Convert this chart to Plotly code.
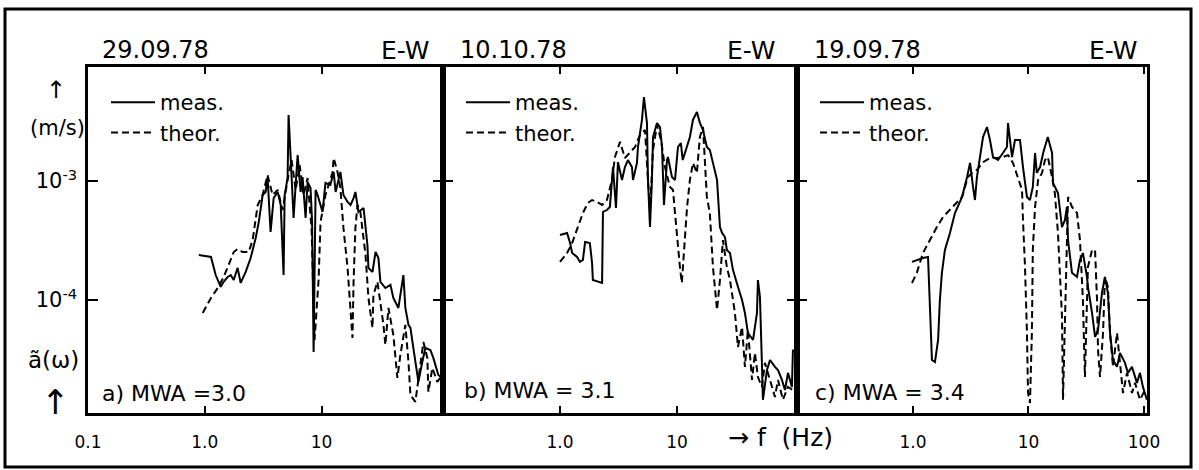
import plotly.graph_objects as go

# ---------------- data ----------------
# Panel a) 29.09.78  E-W, MWA = 3.0
fa_meas = [0.89, 1.13, 1.24, 1.37, 1.45, 1.57, 1.67, 1.77, 1.91, 2.03, 2.24, 2.47, 2.73, 2.90, 3.13, 3.32,
           3.45, 3.66, 3.89, 4.21, 4.47, 4.73, 4.83, 5.12, 5.22, 5.43, 5.65, 5.76, 6.00, 6.24, 6.62, 6.88,
           7.30, 7.59, 8.05, 8.30, 8.55, 8.89, 9.25, 10.2, 10.8, 11.9, 12.7, 13.2, 14.5, 15.4, 16.7, 17.7,
           18.8, 19.5, 20.7, 22.9, 24.7, 25.2, 27.3, 29.0, 30.7, 31.9, 35.2, 38.9, 41.2, 45.5, 50.2, 52.2,
           55.5, 57.7, 61.1, 64.9, 67.5, 72.9, 77.4, 85.5, 90.6, 100, 108]
aa_meas = [2.39e-4, 2.30e-4, 1.62e-4, 1.29e-4, 1.42e-4, 1.56e-4, 1.62e-4, 1.47e-4, 1.86e-4, 1.39e-4,
           1.72e-4, 2.25e-4, 3.32e-4, 4.52e-4, 7.62e-4, 8.09e-4, 1.08e-3, 3.73e-4, 7.19e-4, 8.09e-4,
           6.29e-4, 1.62e-4, 7.62e-4, 1.06e-3, 3.59e-3, 1.44e-3, 5.93e-4, 4.89e-4, 9.25e-4, 1.65e-3,
           8.09e-4, 1.08e-3, 4.89e-4, 9.80e-4, 8.73e-4, 4.52e-4, 3.66e-5, 8.41e-4, 7.62e-4, 5.49e-4,
           9.62e-4, 9.25e-4, 1.19e-3, 8.09e-4, 1.19e-3, 7.62e-4, 6.67e-4, 6.29e-4, 7.19e-4, 8.09e-4,
           5.49e-4, 5.93e-4, 2.90e-4, 1.86e-4, 1.72e-4, 2.53e-4, 2.25e-4, 1.42e-4, 1.26e-4, 1.34e-4,
           1.04e-4, 8.57e-5, 1.62e-4, 8.57e-5, 6.17e-5, 5.82e-5, 3.95e-5, 2.68e-5, 2.05e-5, 3.01e-5,
           3.95e-5, 3.80e-5, 3.26e-5, 2.34e-5, 2.21e-5]
fa_theo = [0.96, 1.13, 1.29, 1.45, 1.60, 1.77, 1.91, 2.11, 2.38, 2.57, 2.84, 3.13, 3.45, 3.81, 4.21, 4.64,
           5.12, 5.54, 6.00, 6.49, 7.02, 7.59, 8.22, 8.71, 9.43, 9.80, 10.8, 12.4, 12.7, 13.7, 14.5, 15.4,
           16.7, 17.7, 18.4, 18.8, 19.5, 20.3, 21.5, 23.8, 25.2, 27.3, 27.8, 30.1, 31.9, 33.9, 35.2, 37.4,
           41.2, 44.6, 47.3, 52.2, 55.5, 57.7, 63.6, 67.5, 74.5, 80.5, 82.2, 88.9, 98.0, 108]
aa_theo = [7.78e-5, 1.04e-4, 1.26e-4, 1.56e-4, 1.97e-4, 2.53e-4, 2.68e-4, 2.53e-4, 2.53e-4, 3.19e-4,
           6.29e-4, 7.62e-4, 1.12e-3, 7.62e-4, 8.41e-4, 5.70e-4, 1.02e-3, 1.50e-3, 8.41e-4, 1.36e-3,
           7.62e-4, 1.06e-3, 3.88e-4, 4.61e-5, 1.47e-4, 4.52e-4, 7.62e-4, 1.17e-3, 1.56e-3, 1.19e-3,
           8.73e-4, 4.03e-4, 1.86e-4, 8.57e-5, 4.80e-5, 1.42e-4, 4.03e-4, 6.29e-4, 5.49e-4, 2.39e-4,
           1.04e-4, 5.82e-5, 1.10e-4, 1.42e-4, 9.62e-5, 6.17e-5, 4.19e-5, 8.57e-5, 5.08e-5, 2.21e-5,
           3.45e-5, 6.17e-5, 3.01e-5, 1.59e-5, 1.39e-5, 2.21e-5, 4.44e-5, 3.26e-5, 1.69e-5, 2.68e-5,
           2.05e-5, 2.34e-5]

# Panel b) 10.10.78  E-W, MWA = 3.1
fb_meas = [1.00, 1.15, 1.22, 1.27, 1.40, 1.48, 1.57, 1.64, 1.80, 1.88, 1.91, 2.29, 2.33, 2.52, 2.67, 2.78,
           2.84, 3.01, 3.13, 3.39, 3.59, 3.81, 4.12, 4.21, 4.55, 4.64, 5.02, 5.22, 5.54, 5.65, 5.88, 6.11,
           6.24, 6.75, 7.16, 7.45, 7.74, 8.22, 8.37, 9.06, 9.62, 10.2, 10.8, 11.2, 12.2, 12.9, 13.7, 14.8,
           15.7, 16.7, 18.0, 19.1, 20.3, 22.0, 23.3, 24.3, 25.7, 26.7, 28.4, 30.1, 33.2, 36.0, 38.1, 40.4,
           44.7, 48.3, 49.2, 51.2, 53.2, 54.3, 58.8, 62.4, 68.8, 73.0, 78.9, 83.8, 88.9, 96.1, 98.0, 106]
ab_meas = [3.52e-4, 3.66e-4, 3.01e-4, 2.48e-4, 2.30e-4, 2.09e-4, 2.17e-4, 3.07e-4, 3.01e-4, 2.05e-4,
           1.47e-4, 1.39e-4, 5.49e-4, 5.70e-4, 6.05e-4, 1.02e-3, 1.31e-3, 5.93e-4, 1.44e-3, 1.02e-3,
           1.31e-3, 1.50e-3, 1.31e-3, 1.02e-3, 1.42e-3, 1.93e-3, 3.26e-3, 5.08e-3, 3.07e-3, 1.02e-3,
           4.10e-4, 1.02e-3, 2.34e-3, 3.07e-3, 2.84e-3, 1.93e-3, 6.29e-4, 1.50e-3, 1.59e-3, 1.08e-3,
           1.02e-3, 1.93e-3, 2.08e-3, 1.50e-3, 1.93e-3, 2.34e-3, 3.26e-3, 3.80e-3, 3.07e-3, 2.68e-3,
           1.93e-3, 1.82e-3, 1.42e-3, 1.02e-3, 4.10e-4, 3.66e-4, 3.38e-4, 2.63e-4, 2.48e-4, 1.79e-4,
           1.29e-4, 1.00e-4, 7.78e-5, 5.28e-5, 4.61e-5, 7.78e-5, 1.47e-4, 1.06e-4, 2.96e-5, 1.45e-5,
           2.58e-5, 3.13e-5, 2.74e-5, 2.58e-5, 2.13e-5, 1.75e-5, 2.44e-5, 1.86e-5, 3.80e-5, 3.59e-5]
fb_theo = [1.00, 1.15, 1.27, 1.40, 1.57, 1.73, 1.88, 2.07, 2.29, 2.52, 2.78, 2.95, 3.26, 3.59, 3.97, 4.38,
           4.83, 5.33, 5.65, 5.88, 6.24, 6.75, 7.30, 7.89, 8.71, 9.25, 9.62, 10.0, 10.6, 11.0, 11.5, 12.2,
           12.9, 13.7, 14.8, 15.7, 16.7, 18.0, 19.1, 20.3, 22.0, 23.3, 24.7, 26.7, 28.4, 31.3, 33.2, 36.0,
           38.1, 40.4, 43.8, 46.4, 49.2, 53.2, 56.5, 62.4, 68.8, 73.0, 80.5, 88.9, 98.0]
ab_theo = [2.09e-4, 2.48e-4, 3.01e-4, 3.88e-4, 5.38e-4, 6.53e-4, 6.92e-4, 6.67e-4, 6.29e-4, 6.92e-4,
           1.02e-3, 1.59e-3, 2.13e-3, 1.56e-3, 1.72e-3, 1.93e-3, 2.44e-3, 2.68e-3, 1.02e-3, 5.70e-4,
           1.82e-3, 2.96e-3, 2.21e-3, 1.31e-3, 8.91e-4, 8.41e-4, 5.38e-4, 3.38e-4, 1.89e-4, 1.39e-4,
           2.48e-4, 6.05e-4, 1.02e-3, 1.42e-3, 1.17e-3, 2.34e-3, 2.84e-3, 7.34e-4, 5.38e-4, 1.89e-4,
           8.24e-5, 1.47e-4, 3.19e-4, 1.89e-4, 1.47e-4, 7.78e-5, 4.03e-5, 5.93e-5, 2.74e-5, 5.60e-5,
           2.13e-5, 3.59e-5, 2.25e-5, 1.86e-5, 2.96e-5, 2.13e-5, 1.53e-5, 2.13e-5, 1.45e-5, 1.86e-5,
           1.75e-5]

# Panel c) 19.09.78  E-W, MWA = 3.4
fc_meas = [0.98, 1.08, 1.22, 1.35, 1.40, 1.46, 1.55, 1.65, 1.71, 1.78, 1.89, 2.09, 2.31, 2.66, 2.94, 3.12,
           3.31, 3.44, 3.58, 3.80, 4.04, 4.37, 4.64, 4.93, 5.45, 6.01, 6.51, 6.65, 7.20, 7.64, 8.44, 8.96,
           9.70, 10.3, 10.9, 11.4, 11.8, 12.6, 13.4, 14.7, 16.0, 16.3, 18.0, 19.5, 20.7, 21.5, 22.0, 23.8,
           26.3, 27.9, 29.6, 32.1, 32.7, 35.5, 37.7, 40.0, 43.3, 45.9, 48.7, 50.8, 53.9, 58.4, 62.0, 68.4,
           72.6, 78.7, 86.9, 92.3, 97.9, 106]
ac_meas = [2.09e-4, 2.17e-4, 2.25e-4, 2.30e-4, 1.00e-4, 3.13e-5, 3.01e-5, 4.61e-5, 1.00e-4, 1.69e-4,
           2.63e-4, 3.66e-4, 5.38e-4, 7.34e-4, 1.08e-3, 1.42e-3, 8.91e-4, 6.92e-4, 1.08e-3, 1.59e-3,
           2.34e-3, 2.84e-3, 2.21e-3, 1.59e-3, 1.50e-3, 1.72e-3, 1.93e-3, 3.07e-3, 1.59e-3, 2.21e-3,
           2.21e-3, 1.31e-3, 7.34e-4, 6.92e-4, 8.91e-4, 1.72e-3, 1.17e-3, 1.31e-3, 1.72e-3, 2.34e-3,
           1.72e-3, 9.62e-4, 7.93e-4, 4.10e-4, 4.70e-4, 6.05e-4, 3.19e-4, 1.69e-4, 1.56e-4, 2.17e-4,
           2.48e-4, 1.56e-4, 1.29e-4, 7.78e-5, 4.89e-5, 5.60e-5, 1.15e-4, 1.56e-4, 1.15e-4, 5.28e-5,
           3.13e-5, 2.74e-5, 3.59e-5, 2.96e-5, 2.44e-5, 2.74e-5, 2.01e-5, 2.44e-5, 1.86e-5, 1.45e-5]
fc_theo = [0.98, 1.08, 1.22, 1.40, 1.61, 1.82, 2.18, 2.66, 2.99, 3.31, 3.58, 4.04, 4.64, 5.34, 6.01, 6.65,
           7.34, 8.11, 8.79, 8.96, 9.33, 9.70, 9.91, 10.3, 10.7, 10.9, 11.4, 12.1, 13.1, 13.9, 14.7, 16.0,
           16.9, 18.0, 19.5, 19.9, 20.7, 21.5, 22.0, 23.8, 26.3, 27.9, 29.6, 30.8, 32.7, 35.5, 37.7, 39.2,
           40.0, 41.6, 44.2, 45.9, 48.7, 50.8, 53.9, 58.4, 62.0, 65.8, 71.3, 78.7, 83.6, 92.3, 102]
ac_theo = [1.39e-4, 1.69e-4, 2.48e-4, 3.19e-4, 4.10e-4, 4.98e-4, 6.05e-4, 7.34e-4, 1.08e-3, 1.19e-3,
           1.24e-3, 1.44e-3, 1.56e-3, 1.56e-3, 1.59e-3, 1.65e-3, 1.42e-3, 1.08e-3, 8.41e-4, 4.70e-4,
           1.89e-4, 5.28e-5, 1.65e-5, 1.36e-5, 5.28e-5, 2.63e-4, 6.05e-4, 1.02e-3, 1.17e-3, 1.50e-3,
           1.59e-3, 1.08e-3, 7.93e-4, 3.66e-4, 7.20e-5, 1.45e-5, 7.20e-5, 3.66e-4, 7.34e-4, 6.05e-4,
           5.38e-4, 3.19e-4, 1.00e-4, 2.25e-5, 1.89e-4, 2.63e-4, 2.63e-4, 1.00e-4, 3.80e-5, 2.25e-5,
           5.28e-5, 1.56e-4, 1.29e-4, 5.28e-5, 2.74e-5, 5.28e-5, 2.74e-5, 1.65e-5, 2.44e-5, 1.65e-5,
           2.01e-5, 1.45e-5, 1.75e-5]

dates = ["29.09.78", "10.10.78", "19.09.78"]
component = "E-W"
panel_notes = ["a) MWA =3.0", "b) MWA = 3.1", "c) MWA = 3.4"]
x_tickvals = [[0.1, 1, 10], [1, 10], [1, 10, 100]]
x_ticktext = [["0.1", "1.0", "10"], ["1.0", "10"], ["1.0", "10", "100"]]
y_tickvals = [1e-4, 1e-3]
y_ticktext = ["10<sup>-4</sup>", "10<sup>-3</sup>"]
series_names = ["meas.", "theor."]

panels = [
    (fa_meas, aa_meas, fa_theo, aa_theo),
    (fb_meas, ab_meas, fb_theo, ab_theo),
    (fc_meas, ac_meas, fc_theo, ac_theo),
]

# ---------------- layout geometry ----------------
W, H = 1199, 470
FONT = "DejaVu Sans"
x_edges = [(88, 443), (443, 797), (797, 1147)]
x_ranges = [[-1.0, 2.04], [-1.0, 2.026], [-1.004, 2.026]]
y_dom = [1 - 413 / H, 1 - 67 / H]
y_range = [-4.95, -2.042]

fig = go.Figure()
legend_names = ["legend", "legend2", "legend3"]
for i, (fm, am, ft, at) in enumerate(panels):
    xa = "x" if i == 0 else f"x{i+1}"
    ya = "y" if i == 0 else f"y{i+1}"
    fig.add_trace(go.Scatter(x=fm, y=am, mode="lines", name=series_names[0],
                             line=dict(color="black", width=2), xaxis=xa, yaxis=ya,
                             legend=legend_names[i]))
    fig.add_trace(go.Scatter(x=ft, y=at, mode="lines", name=series_names[1],
                             line=dict(color="black", width=2, dash="7px,4px"), xaxis=xa, yaxis=ya,
                             legend=legend_names[i]))

layout = dict(width=W, height=H, autosize=False,
              margin=dict(l=0, r=0, t=0, b=0, pad=0, autoexpand=False),
              paper_bgcolor="white", plot_bgcolor="white",
              font=dict(family=FONT, color="black"))

for i in range(3):
    sfx = "" if i == 0 else str(i + 1)
    x0, x1 = x_edges[i]
    layout["xaxis" + sfx] = dict(
        type="log", domain=[x0 / W, x1 / W], range=x_ranges[i], anchor="y" + sfx,
        tickvals=x_tickvals[i], ticktext=x_ticktext[i], ticks="inside", ticklen=7, tickwidth=2,
        tickcolor="black", showline=True, linecolor="black", linewidth=2.5, mirror="allticks",
        showgrid=False, zeroline=False, automargin=False,
        tickfont=dict(size=17, family=FONT), ticklabelstandoff=12)
    layout["yaxis" + sfx] = dict(
        type="log", domain=y_dom, range=y_range, anchor="x" + sfx,
        tickvals=y_tickvals, ticktext=y_ticktext, showticklabels=(i == 0),
        ticks="inside", ticklen=10, tickwidth=2, tickcolor="black",
        showline=True, linecolor="black", linewidth=2.5, mirror="allticks",
        showgrid=False, zeroline=False, automargin=False,
        tickfont=dict(size=21, family=FONT), ticklabelstandoff=4)
    layout[legend_names[i]] = dict(
        x=(x0 + 18) / W, y=1 - 82 / H, xanchor="left", yanchor="top",
        bgcolor="rgba(0,0,0,0)", borderwidth=0, font=dict(size=21, family=FONT),
        itemwidth=44, tracegroupgap=0)

fig.update_layout(**layout)


def note(text, px, py, size, xanchor="center"):
    return dict(text=text, x=px / W, y=1 - py / H, xref="paper", yref="paper",
                xanchor=xanchor, yanchor="middle", showarrow=False,
                font=dict(size=size, family=FONT))


annots = []
title_pos = [(100, 432), (458, 778), (812, 1140)]
for i in range(3):
    xl, xr = title_pos[i]
    annots.append(note(dates[i], xl, 50, 24, "left"))
    annots.append(note(component, xr, 50, 25, "right"))
note_pos = [(100, 393), (462, 390), (813, 392)]
for i in range(3):
    px, py = note_pos[i]
    annots.append(note(panel_notes[i], px, py, 22, "left"))
annots += [
    note("↑", 56, 90, 24),
    note("(m/s)", 57, 128, 21),
    note("ã(ω)", 53, 360, 23),
    note("↑", 55, 402, 34),
    note("→ f  (Hz)", 780, 437, 25),
]
fig.update_layout(annotations=annots)

fig.add_shape(type="rect", xref="paper", yref="paper", x0=5 / W, x1=1191 / W,
              y0=1 - 467 / H, y1=1 - 9 / H, line=dict(color="black", width=3))

fig.write_html("out.html", config={"displayModeBar": False},
               post_script="document.body.style.margin='0';document.body.style.overflow='hidden';")
